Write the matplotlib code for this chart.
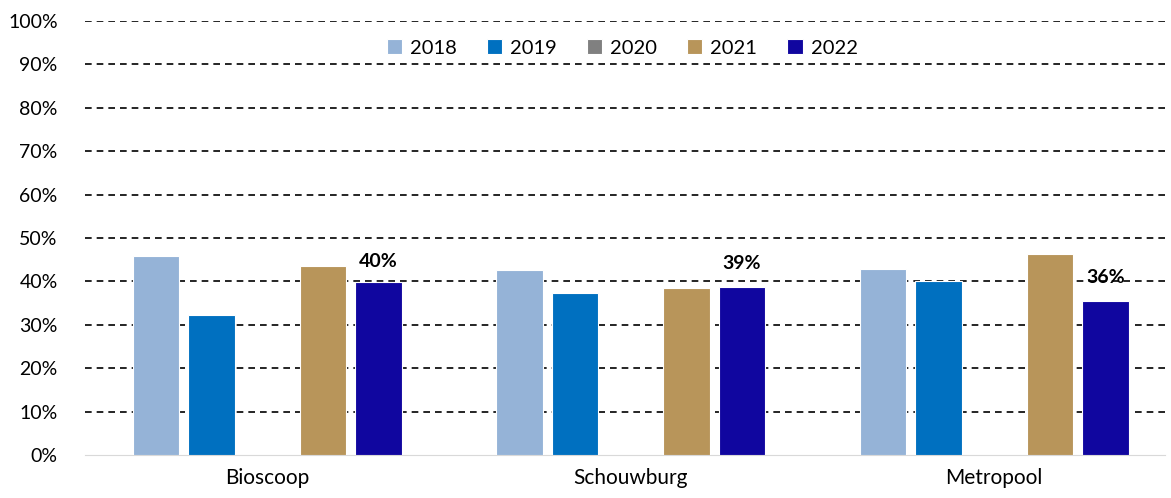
import matplotlib.pyplot as plt
import numpy as np

# categories and series (share of visitors, %)
categories = ['Bioscoop', 'Schouwburg', 'Metropool']
years = ['2018', '2019', '2020', '2021', '2022']
values = {
    '2018': [45.9, 42.6, 42.9],
    '2019': [32.3, 37.3, 40.1],
    '2020': [0, 0, 0],
    '2021': [43.5, 38.5, 46.3],
    '2022': [39.9, 38.7, 35.5],
}
labels_2022 = ['40%', '39%', '36%']
label_offsets = [4.8, 5.5, 5.4]   # label height above the 2022 bar (%)
colors = ['#95B3D7', '#0070C0', '#808080', '#B8955A', '#10069F']

plt.rcParams['font.family'] = ['Lato', 'DejaVu Sans']

fig = plt.figure(figsize=(11.71, 4.98), dpi=100)
ax = fig.add_axes([0.073, 0.086, 0.922, 0.872])

x = np.arange(len(categories))
step = 0.153
width = 0.128
for i, yr in enumerate(years):
    pos = x + (i - 2) * step
    ax.bar(pos, values[yr], width, color=colors[i], edgecolor='white',
           linewidth=0.8, label=yr, zorder=3)

# bold data labels above 2022 bars
for j, lab in enumerate(labels_2022):
    ax.text(x[j] + 2 * step, values['2022'][j] + label_offsets[j], lab,
            ha='center', va='center', fontsize=14, fontweight='bold', zorder=4)

ax.set_ylim(0, 100)
ax.set_xlim(-0.5, 2.47)
ax.set_yticks(range(0, 101, 10))
ax.set_yticklabels([f'{v}%' for v in range(0, 101, 10)])
ax.set_xticks(x)
ax.set_xticklabels(categories)
ax.tick_params(axis='y', length=0, labelsize=14, pad=20)
ax.tick_params(axis='x', length=0, labelsize=15, pad=9)

ax.yaxis.grid(True, linestyle=(0, (4, 3)), color='black', linewidth=1.2, zorder=0)
ax.set_axisbelow(True)
for s in ['top', 'right', 'left']:
    ax.spines[s].set_visible(False)
ax.spines['bottom'].set_color('#D9D9D9')

# hide dashed gridline at 0 (baseline drawn by spine)
ax.get_ygridlines()[0].set_visible(False)

leg = ax.legend(loc='upper center', bbox_to_anchor=(0.497, 0.99), ncol=5,
                frameon=True, fontsize=14.5, handlelength=0.75, handleheight=0.75,
                columnspacing=1.5, handletextpad=0.4, borderpad=0.2)
leg.get_frame().set_facecolor('white')
leg.get_frame().set_edgecolor('white')
leg.get_frame().set_alpha(1)

fig.savefig('out.png', dpi=100)
